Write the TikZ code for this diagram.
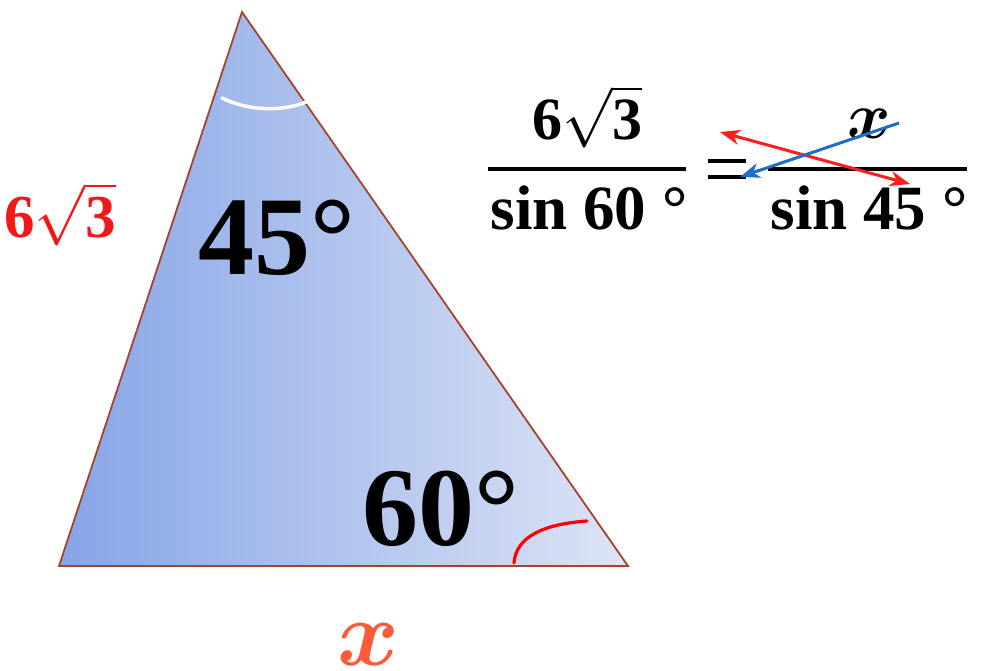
\documentclass[tikz,border=0pt]{standalone}
\DeclareFontShape{OML}{cmm}{m}{it}{<->cmmi10}{}
\DeclareFontShape{OML}{cmm}{b}{it}{<->cmmib10}{}
\DeclareFontShape{OMS}{cmsy}{m}{n}{<->cmsy10}{}
\DeclareFontShape{OMS}{cmsy}{b}{n}{<->cmbsy10}{}
\DeclareFontShape{OMX}{cmex}{m}{n}{<->cmex10}{}
\usepackage{bm}
\usepackage{fontspec}
\setmainfont{Liberation Serif}
\usetikzlibrary{arrows.meta}
\definecolor{edgebrown}{HTML}{A4442C}
\definecolor{gradL}{HTML}{86A5E7}
\definecolor{gradR}{HTML}{DDE4F5}
\definecolor{lblred}{HTML}{F01818}
\definecolor{xorange}{HTML}{FF5A3A}
\definecolor{arrred}{HTML}{FF1E1E}
\definecolor{arrblue}{HTML}{1C6EC6}
\newcommand{\bx}{$\bm{x}$}
\newcommand{\sixrt}{6$\sqrt{\hbox{3}}$}
\tikzset{
  txt/.style={inner sep=0pt, anchor=base, font=\bfseries},
  bar/.style={line width=4pt, black},
  tipstyle/.tip={Stealth[length=20pt,width=15pt,inset=6pt]},
  crossarrow/.style={line width=3pt, arrows={-tipstyle}},
}
\begin{document}
\begin{tikzpicture}[x=1pt,y=-1pt]
\useasboundingbox (0,0) rectangle (999,671);
% triangle
\coordinate (A) at (242,12);
\coordinate (B) at (59,566);
\coordinate (C) at (628,566);
\shade[left color=gradL, right color=gradR] (A) -- (B) -- (C) -- cycle;
\draw[edgebrown, line width=1.8pt, line join=miter] (A) -- (B) -- (C) -- cycle;
% angle arcs
\draw[white, line width=3.5pt, line cap=round] (222,98) .. controls (250,112) and (285,111) .. (306,102);
\draw[red, line width=3.2pt, line cap=round] (514,563) .. controls (516,536) and (545,524) .. (587,521);
% angle labels
\node[txt, anchor=base west, font=\bfseries\fontsize{112}{112}\selectfont] (a45) at (198,275) {45°};
\node[txt, anchor=base west, font=\bfseries\fontsize{112}{112}\selectfont] (a60) at (362,545) {60°};
% side labels
\node[txt, anchor=base west, text=lblred, font=\bfseries\fontsize{61}{61}\selectfont] (s1) at (4,238) {\sixrt};
\node[txt, text=xorange, font=\fontsize{94}{94}\selectfont] (s2) at (368,665) {\bx};
% equation
\node[txt, font=\bfseries\fontsize{60}{60}\selectfont] (n1) at (587,140) {\sixrt};
\node[txt, font=\bfseries\fontsize{63}{63}\selectfont] (d1) at (589,230) {sin 60 °};
\node[txt, font=\fontsize{66}{66}\selectfont] (n2) at (869,139) {\bx};
\node[txt, font=\bfseries\fontsize{63}{63}\selectfont] (d2) at (869,230) {sin 45 °};
\coordinate (b1l) at (488,169); \coordinate (b1r) at (686,169);
\coordinate (b2l) at (768,169); \coordinate (b2r) at (967,169);
\draw[bar] (b1l) -- (b1r);
\draw[bar] (b2l) -- (b2r);
\coordinate (e1l) at (708,161); \coordinate (e1r) at (746,161);
\coordinate (e2l) at (708,177); \coordinate (e2r) at (746,177);
\draw[bar] (e1l) -- (e1r);
\draw[bar] (e2l) -- (e2r);
% cross arrows
\coordinate (r1) at (720,132); \coordinate (r2) at (910,184);
\coordinate (bl1) at (899,123); \coordinate (bl2) at (740,177);
\draw[crossarrow, arrred, arrows={tipstyle-tipstyle}] (r1) -- (r2);
\draw[crossarrow, arrblue] (bl1) -- (bl2);
\end{tikzpicture}
\end{document}
